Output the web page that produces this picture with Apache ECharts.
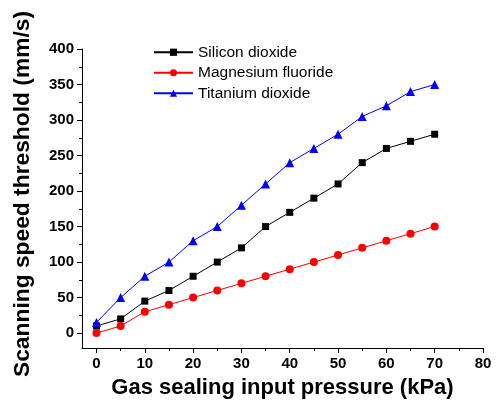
<!DOCTYPE html>
<html>
<head>
<meta charset="utf-8">
<script src="https://cdn.jsdelivr.net/npm/echarts@6/dist/echarts.min.js"></script>
<style>
  html, body { margin: 0; padding: 0; background: #fff; }
  #chart { width: 498px; height: 403px; }
</style>
</head>
<body>
<div id="chart"></div>
<script>
// gas sealing input pressure (kPa)
var pressure = [0, 5, 10, 15, 20, 25, 30, 35, 40, 45, 50, 55, 60, 65, 70];
var silicon = [10, 20, 45, 60, 80, 100, 120, 150, 170, 190, 210, 240, 260, 270, 280];
var magnesium = [0, 10, 30, 40, 50, 60, 70, 80, 90, 100, 110, 120, 130, 140, 150];
var titanium = [15, 50, 80, 100, 130, 150, 180, 210, 240, 260, 280, 305, 320, 340, 350];

var xMajor = [0, 10, 20, 30, 40, 50, 60, 70, 80];
var xMinor = [5, 15, 25, 35, 45, 55, 65, 75];
var yMajor = [0, 50, 100, 150, 200, 250, 300, 350, 400];
var yMinor = [25, 75, 125, 175, 225, 275, 325, 375];

var font = 'Liberation Sans, Arial, sans-serif';

function pairs(ys) {
  return pressure.map(function (x, i) { return [x, ys[i]]; });
}

var chart = echarts.init(document.getElementById('chart'));

var axisLine = { show: true, onZero: false, lineStyle: { color: '#000', width: 1 } };
var noLine = { show: false, onZero: false };

var option = {
  backgroundColor: '#fff',
  animation: false,
  grid: { left: 82, right: 15, top: 49, bottom: 55, containLabel: false, outerBoundsMode: 'none' },
  legend: {
    orient: 'vertical',
    left: 148,
    top: 38,
    itemWidth: 39,
    itemHeight: 9,
    itemGap: 2,
    textStyle: { fontFamily: font, fontSize: 15.5, color: '#000', lineHeight: 18.5 },
    data: ['Silicon dioxide', 'Magnesium fluoride', 'Titanium dioxide']
  },
  xAxis: [
    {
      type: 'value', min: -3, max: 80,
      name: 'Gas sealing input pressure (kPa)',
      nameLocation: 'middle', nameGap: 29,
      nameTextStyle: { fontFamily: font, fontSize: 22, fontWeight: 'bold', color: '#000' },
      axisLine: axisLine,
      axisTick: { show: true, inside: false, length: 5, customValues: xMajor, lineStyle: { color: '#000', width: 1 } },
      axisLabel: { customValues: xMajor, fontFamily: font, fontSize: 15, fontWeight: 'bold', color: '#000', margin: 8 },
      splitLine: { show: false }
    },
    {
      type: 'value', min: -3, max: 80, position: 'bottom',
      axisLine: noLine,
      axisTick: { show: true, inside: false, length: 3, customValues: xMinor, lineStyle: { color: '#000', width: 1 } },
      axisLabel: { show: false },
      splitLine: { show: false }
    }
  ],
  yAxis: [
    {
      type: 'value', min: -21, max: 400,
      name: 'Scanning speed threshold (mm/s)',
      nameLocation: 'middle', nameGap: 48,
      nameTextStyle: { fontFamily: font, fontSize: 22.8, fontWeight: 'bold', color: '#000', padding: [0, 0, 0, 9] },
      axisLine: axisLine,
      axisTick: { show: true, inside: false, length: 5, customValues: yMajor, lineStyle: { color: '#000', width: 1 } },
      axisLabel: { customValues: yMajor, fontFamily: font, fontSize: 15, fontWeight: 'bold', color: '#000', margin: 8 },
      splitLine: { show: false }
    },
    {
      type: 'value', min: -21, max: 400, position: 'left',
      axisLine: noLine,
      axisTick: { show: true, inside: false, length: 3, customValues: yMinor, lineStyle: { color: '#000', width: 1 } },
      axisLabel: { show: false },
      splitLine: { show: false }
    }
  ],
  series: [
    {
      name: 'Silicon dioxide', type: 'line',
      data: pairs(silicon),
      symbol: 'rect', symbolSize: 7,
      itemStyle: { color: '#000' },
      lineStyle: { color: '#000', width: 1 }
    },
    {
      name: 'Magnesium fluoride', type: 'line',
      data: pairs(magnesium),
      symbol: 'circle', symbolSize: 8,
      itemStyle: { color: '#ff0000' },
      lineStyle: { color: '#ff0000', width: 1 }
    },
    {
      name: 'Titanium dioxide', type: 'line',
      data: pairs(titanium),
      symbol: 'triangle', symbolSize: 9,
      itemStyle: { color: '#0000ff' },
      lineStyle: { color: '#0000ff', width: 1 }
    }
  ]
};

chart.setOption(option);
</script>
</body>
</html>
